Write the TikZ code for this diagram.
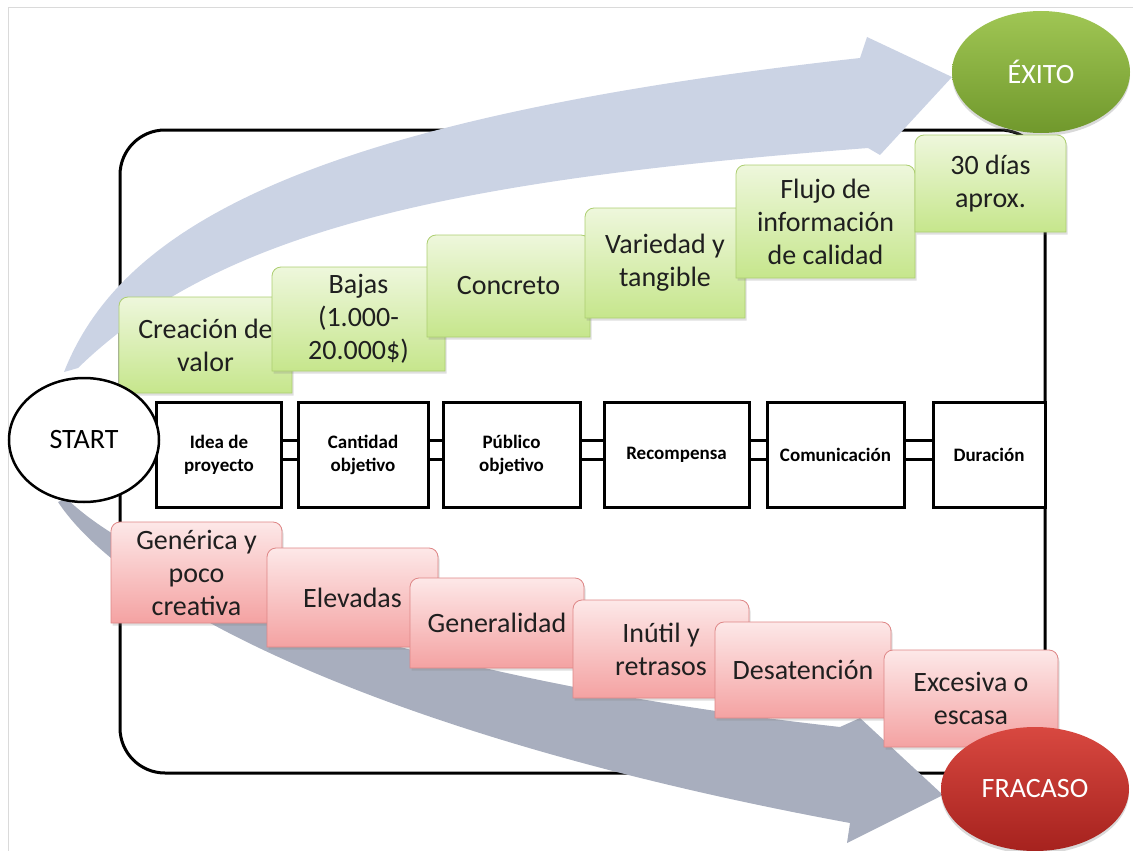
\documentclass[tikz,border=0pt]{standalone}
\usepackage{fontspec}
\setmainfont{Carlito}
\usetikzlibrary{shapes.geometric,shadows}

\definecolor{gtop}{RGB}{238,247,220}
\definecolor{gbot}{RGB}{198,230,140}
\definecolor{gline}{RGB}{172,206,112}
\definecolor{rtop}{RGB}{253,232,232}
\definecolor{rbot}{RGB}{244,162,162}
\definecolor{rline}{RGB}{222,134,134}
\definecolor{upband}{RGB}{203,211,228}
\definecolor{downband}{RGB}{168,174,190}
\definecolor{wintop}{RGB}{160,198,84}
\definecolor{winbot}{RGB}{112,152,44}
\definecolor{losetop}{RGB}{216,72,64}
\definecolor{losebot}{RGB}{166,34,30}
\definecolor{framegray}{RGB}{218,218,218}

% card with rounded top corners and a centred label node
\newcommand\stepcard[7]{%
  \shade[#6] (#2,#5) [rounded corners=9pt] -- (#2,#3) -- (#4,#3) [sharp corners] -- (#4,#5) -- cycle;
  \node[cardtext] (#1) at ({(#2+#4)/2},{(#3+#5)/2}) {#7};}

\begin{document}
\begin{tikzpicture}[x=1pt,y=-1pt,
  gcard/.style={top color=gtop, bottom color=gbot, draw=gline, line width=0.8pt,
    drop shadow={opacity=0.25, shadow xshift=1.5pt, shadow yshift=-2.5pt}},
  rcard/.style={top color=rtop, bottom color=rbot, draw=rline, line width=0.8pt,
    drop shadow={opacity=0.25, shadow xshift=1.5pt, shadow yshift=-2.5pt}},
  cardtext/.style={align=center, inner sep=0pt, font=\fontsize{28}{33}\selectfont, text=black!88},
  midbox/.style={draw, line width=3pt, fill=white, inner sep=0pt, align=center,
    font=\fontsize{19}{23}\selectfont\bfseries, minimum height=105pt},
  link/.style={line width=3pt},
  goal/.style={ellipse, inner sep=0pt, text=white, font=\fontsize{28}{33}\selectfont,
    drop shadow={opacity=0.3, shadow xshift=0pt, shadow yshift=-3pt}}
]
\useasboundingbox (0,0) rectangle (1133,851);

% page frame
\draw[framegray, line width=1pt] (8,851) -- (8,8) -- (1133,8);

% process container
\draw[line width=3pt, rounded corners=45pt] (120,130) rectangle (1045,773);

% success path
\fill[upband] (64,372) .. controls (120,230) and (300,120) .. (860,58)
  -- (867,37) -- (952,77) -- (880,155) -- (868,148)
  .. controls (450,180) and (220,230) .. (78,368) -- cycle;

% failure path
\fill[downband] (66,498) .. controls (150,580) and (420,680) .. (840,727)
  -- (860,718) -- (943,795) -- (847,843) -- (850,823)
  .. controls (400,740) and (130,610) .. (58,502) -- cycle;

% outcomes
\node[goal, top color=wintop, bottom color=winbot, minimum width=178pt, minimum height=122pt]
  (exito) at (1041,72) {ÉXITO};

% good practices
\stepcard{g1}{119}{297}{292}{393}{gcard}{Creación de\\valor}
\stepcard{g2}{272}{267}{445}{371}{gcard}{Bajas\\(1.000-\\20.000\$)}
\stepcard{g3}{427}{235}{590}{337}{gcard}{Concreto}
\stepcard{g4}{585}{208}{745}{318}{gcard}{Variedad y\\tangible}
\stepcard{g5}{736}{165}{915}{278}{gcard}{Flujo de\\información\\de calidad}
\stepcard{g6}{915}{135}{1066}{232}{gcard}{30 días\\aprox.}

% bad practices
\stepcard{r1}{111}{522}{282}{623}{rcard}{Genérica y\\poco\\creativa}
\stepcard{r2}{267}{548}{438}{647}{rcard}{Elevadas}
\stepcard{r3}{410}{578}{584}{668}{rcard}{Generalidad}
\stepcard{r4}{573}{600}{749}{698}{rcard}{Inútil y\\retrasos}
\stepcard{r5}{715}{622}{891}{718}{rcard}{Desatención}
\stepcard{r6}{884}{650}{1058}{747}{rcard}{Excesiva o\\escasa}

\node[goal, top color=losetop, bottom color=losebot, minimum width=188pt, minimum height=124pt]
  (fracaso) at (1035,789) {FRACASO};

% campaign stages
\node[midbox, minimum width=125pt] (m1) at (219,454.5) {Idea de\\proyecto};
\node[midbox, minimum width=130pt] (m2) at (363,454.5) {Cantidad\\objetivo};
\node[midbox, minimum width=137pt] (m3) at (511.5,454.5) {Público\\objetivo};
\node[midbox, minimum width=145pt] (m4) at (676.5,454.5) {Recompensa};
\node[midbox, minimum width=137pt] (m5) at (835.5,454.5) {Comunicación};
\node[midbox, minimum width=112pt] (m6) at (989,454.5) {Duración};

\foreach \a/\b in {m1/m2,m2/m3,m3/m4,m4/m5,m5/m6}{
  \draw[link] ([yshift=14pt]\a.east) -- ([yshift=14pt]\b.west);
  \draw[link] ([yshift=-5pt]\a.east) -- ([yshift=-5pt]\b.west);
}

% start
\node[ellipse, draw, line width=2.5pt, fill=white, inner sep=0pt,
  minimum width=150pt, minimum height=124pt, font=\fontsize{28}{33}\selectfont]
  (start) at (84,440) {START};
\end{tikzpicture}
\end{document}
